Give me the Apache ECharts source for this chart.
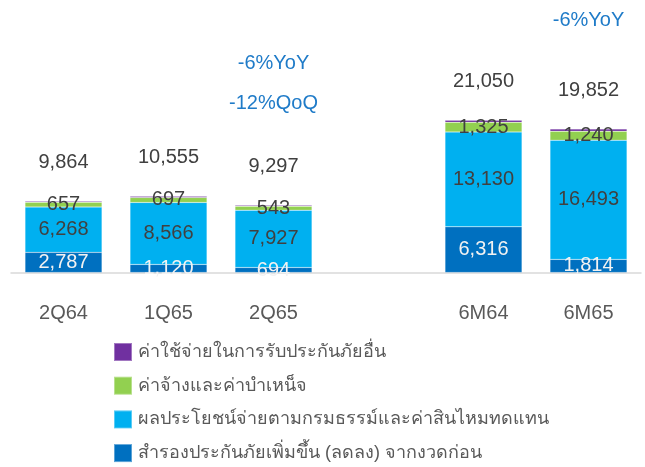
<!DOCTYPE html>
<html><head><meta charset="utf-8">
<script src="https://cdn.jsdelivr.net/npm/echarts@6/dist/echarts.min.js"></script>
<style>html,body{margin:0;padding:0;background:#fff}#c{width:645px;height:467px}</style>
</head><body><div id="c"></div>
<script>
const categories = ['2Q64', '1Q65', '2Q65', '', '6M64', '6M65'];
const reserveChange = [2787, 1120, 694, null, 6316, 1814];
const benefits = [6268, 8566, 7927, null, 13130, 16493];
const commissions = [657, 697, 543, null, 1325, 1240];
const otherExpenses = [152, 172, 133, null, 279, 305];
const totals = [9864, 10555, 9297, null, 21050, 19852];
const seriesNames = [
  'สำรองประกันภัยเพิ่มขึ้น (ลดลง) จากงวดก่อน',
  'ผลประโยชน์จ่ายตามกรมธรรม์และค่าสินไหมทดแทน',
  'ค่าจ้างและค่าบำเหน็จ',
  'ค่าใช้จ่ายในการรับประกันภัยอื่น'
];
const annotations = [
  { index: 2, lines: ['-6%YoY', '-12%QoQ'], offsets: [142, 102] },
  { index: 5, lines: ['-6%YoY'], offsets: [109] }
];

const FONT = '"Liberation Sans", Arial, "Noto Sans", sans-serif';
const fmt = v => v == null ? '' : v.toLocaleString('en-US');
const colors = ['#0070C0', '#00B0F0', '#92D050', '#7030A0'];
const chart = echarts.init(document.getElementById('c'), null, { renderer: 'canvas' });

function seg(name, data, color, labelColor, extra) {
  return Object.assign({
    name, type: 'bar', stack: 'total', data, barWidth: 77,
    itemStyle: { color, borderColor: 'rgba(255,255,255,0.35)', borderWidth: 0.5 },
    label: { show: true, position: 'inside', color: labelColor, fontSize: 20, fontFamily: FONT,
      formatter: p => fmt(p.value) },
    emphasis: { disabled: true }
  }, extra || {});
}

const option = {
  animation: false,
  textStyle: { fontFamily: FONT },
  grid: { left: 11, right: 4, top: 99, bottom: 194.5, containLabel: false },
  legend: {
    orient: 'vertical', left: 113, top: 342, height: 400, padding: 0,
    itemWidth: 18, itemHeight: 18, itemGap: 13.7, icon: 'rect',
    data: [seriesNames[3], seriesNames[2], seriesNames[1], seriesNames[0]],
    textStyle: { color: '#595959', fontSize: 18, fontFamily: FONT, padding: [0, 0, 0, 1] },
    selectedMode: false
  },
  xAxis: {
    type: 'category', data: categories,
    axisLine: { lineStyle: { color: '#D9D9D9', width: 1.5 } },
    axisTick: { show: false },
    axisLabel: { color: '#595959', fontSize: 20, margin: 31, fontFamily: FONT }
  },
  yAxis: { type: 'value', min: 0, max: 24000, show: false, splitLine: { show: false } },
  series: [
    seg(seriesNames[0], reserveChange, colors[0], '#F2F2F2'),
    seg(seriesNames[1], benefits, colors[1], '#404040'),
    seg(seriesNames[2], commissions, colors[2], '#404040'),
    seg(seriesNames[3], otherExpenses, colors[3], '#404040', {
      label: { show: true, position: 'top', distance: 29, color: '#404040', fontSize: 20, fontFamily: FONT,
        formatter: p => fmt(totals[p.dataIndex]) }
    })
  ]
};
chart.setOption(option);

const graphics = [];
annotations.forEach(a => {
  const pt = chart.convertToPixel({ seriesIndex: 0 }, [a.index, totals[a.index]]);
  a.lines.forEach((t, i) => {
    graphics.push({
      type: 'text', x: pt[0], y: pt[1] - a.offsets[i],
      style: { text: t, fill: '#1F7BC8', font: '20px ' + FONT, textAlign: 'center', textVerticalAlign: 'middle' }
    });
  });
});
chart.setOption({ graphic: graphics });
</script></body></html>
